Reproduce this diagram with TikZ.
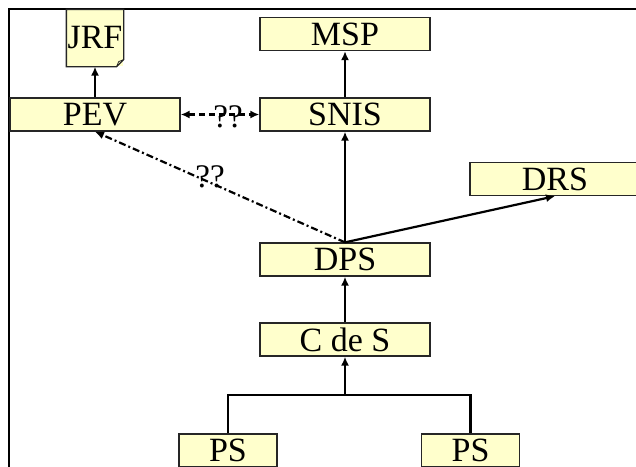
\documentclass[tikz,border=0pt]{standalone}
\usepackage{fontspec}
\setmainfont{Liberation Serif}
\usetikzlibrary{arrows.meta}
\definecolor{boxfill}{RGB}{255,255,204}
\tikzstyle{box}=[rectangle,fill=boxfill,minimum width=170pt,minimum height=33pt,inner sep=0pt, draw=black!85, line width=1.3pt, anchor = center, font=\fontsize{34}{36}\selectfont]
\tikzstyle{annot} = [align=center, inner sep=0pt, font=\fontsize{33}{35}\selectfont]
\tikzstyle{link} = [line width=2.2pt, -{Latex[length=9pt,width=8pt]}]

\begin{document}
\begin{tikzpicture}[x=1pt,y=-1pt]
	\useasboundingbox (0,0) rectangle (636,466);
	% frame
	\draw[line width=2.6pt] (9,470) -- (9,9) -- (640,9);

	\node[box](msp) at (345,34){MSP};
	\node[box](snis) at (345,114.5){SNIS};
	\node[box](pev) at (95,114.5){PEV};
	\node[box, minimum width=56pt, minimum height=56pt, draw=none](jrf) at (95,38){JRF};
	\draw[line width=1.3pt, draw=black!85] (jrf.north west) -- (jrf.north east) -- ([yshift=7pt]jrf.south east) -- ([xshift=-7pt]jrf.south east) -- (jrf.south west) -- cycle;
	\draw[line width=0.8pt, draw=black!85] ([yshift=7pt]jrf.south east) -- ([xshift=-5pt,yshift=5pt]jrf.south east) -- ([xshift=-7pt]jrf.south east);
	\node[box](drs) at (555,179){DRS};
	\node[box](dps) at (345,259.5){DPS};
	\node[box](cds) at (345,339.5){C de S};
	\node[box, minimum width=98pt](ps1) at (228,450.5){PS};
	\node[box, minimum width=98pt](ps2) at (470.5,450.5){PS};

	\coordinate (bus) at (345,395);
	\draw[line width=2.2pt] (ps1.north) |- (bus) -| (ps2.north);
	\draw[link] (bus) -- (cds.south);
	\draw[link] (cds.north) -- (dps.south);
	\draw[link] (dps.north) -- (snis.south);
	\draw[link] (dps.north) -- (drs.south);
	\draw[link] (snis.north) -- (msp.south);
	\draw[link] (pev.north) -- (jrf.south);
	\draw[link, {Latex[length=9pt,width=8pt]}-{Latex[length=9pt,width=8pt]}, dash pattern=on 6pt off 4pt] (pev.east) -- (snis.west) node[annot, midway, xshift=8pt, yshift=-2pt]{??};
	\draw[link, dash pattern=on 7pt off 3pt on 2pt off 3pt] (dps.north) -- (pev.south) node[annot, pos=.54, yshift=6pt]{??};

\end{tikzpicture}
\end{document}
